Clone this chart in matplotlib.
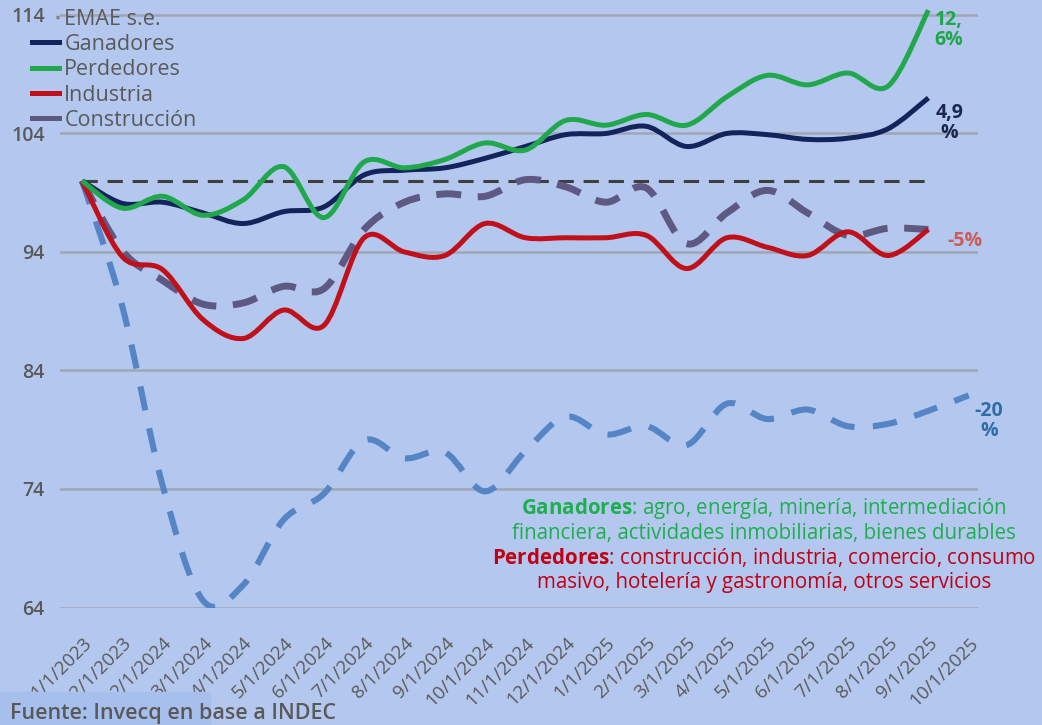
import numpy as np
import matplotlib
matplotlib.use("Agg")
import matplotlib.pyplot as plt
from matplotlib.path import Path
from matplotlib.patches import PathPatch, Rectangle
from matplotlib.lines import Line2D

plt.rcParams['font.family'] = ['Open Sans', 'DejaVu Sans']
plt.rcParams['mathtext.fontset'] = 'custom'
plt.rcParams['mathtext.rm'] = 'Open Sans'
plt.rcParams['mathtext.bf'] = 'Open Sans:bold'

# fechas (eje categórico)
LABELS = ['1/1/2023', '12/1/2023', '2/1/2024', '3/1/2024', '4/1/2024', '5/1/2024',
          '6/1/2024', '7/1/2024', '8/1/2024', '9/1/2024', '10/1/2024', '11/1/2024',
          '12/1/2024', '1/1/2025', '2/1/2025', '3/1/2025', '4/1/2025', '5/1/2025',
          '6/1/2025', '7/1/2025', '8/1/2025', '9/1/2025', '10/1/2025']

GANADORES = [100, 98.1, 98.2, 97.3, 96.4, 97.4, 97.8, 100.5, 100.9, 101.1, 101.9,
             102.9, 103.9, 104.0, 104.6, 102.9, 104.0, 103.9, 103.5, 103.6, 104.4, 107.0]
PERDEDORES = [100, 97.7, 98.7, 97.1, 98.4, 101.2, 96.9, 101.6, 101.1, 101.8, 103.2,
              102.6, 105.1, 104.7, 105.6, 104.7, 107.1, 108.9, 108.1, 109.1, 108.0, 114.4]
INDUSTRIA = [100, 93.6, 92.5, 88.3, 86.7, 89.1, 87.8, 95.2, 94.0, 93.7, 96.4,
             95.2, 95.2, 95.2, 95.4, 92.6, 95.2, 94.4, 93.7, 95.7, 93.7, 95.9]
CONSTRUCCION = [100, 94.1, 91.6, 89.6, 89.7, 91.1, 90.9, 95.9, 98.2, 98.9, 98.7,
                100.1, 99.5, 98.2, 99.4, 94.7, 97.3, 99.2, 97.3, 95.4, 96.0, 95.9]
OTRA = [100, 89.4, 74.3, 64.6, 65.9, 71.4, 73.6, 78.1, 76.6, 77.1, 73.8, 77.2,
        80.1, 78.6, 79.3, 77.7, 81.2, 79.9, 80.7, 79.3, 79.5, 80.6, 81.9]
BASE = 100

END_LABELS = ['12,\n6%', '4,9\n%', '-5%', '-20\n%']
YTICKS = [64, 74, 84, 94, 104, 114]

BG = '#B4C8EF'
GREY = '#595959'


def smooth_path(ys):
    # curva suavizada tipo Excel (Bezier por los puntos)
    pts = np.column_stack([np.arange(len(ys)), ys]).astype(float)
    n = len(pts)
    verts = [pts[0]]
    codes = [Path.MOVETO]
    for k in range(n - 1):
        p0 = pts[max(k - 1, 0)]
        p1 = pts[k]
        p2 = pts[k + 1]
        p3 = pts[min(k + 2, n - 1)]
        verts += [p1 + (p2 - p0) / 6, p2 - (p3 - p1) / 6, p2]
        codes += [Path.CURVE4] * 3
    return Path(verts, codes)


fig = plt.figure(figsize=(10.42, 7.25), dpi=100, facecolor=BG)
ax = fig.add_axes([60 / 1042, 117.5 / 725, 918 / 1042, 604.4 / 725])
ax.set_facecolor(BG)

x = np.arange(len(LABELS))
ax.set_xlim(-0.546, 22.23)
ax.set_ylim(64, 115)

for s in ax.spines.values():
    s.set_visible(False)
ax.set_yticks(YTICKS)
ax.yaxis.grid(True, color='#A0A6B4', linewidth=1.8)
ax.set_axisbelow(True)
ax.set_xticks(x)
ax.set_xticklabels(LABELS, rotation=45, ha='right', va='top', rotation_mode='anchor')
ax.tick_params(axis='x', length=0, pad=19, labelsize=13.5, labelcolor=GREY)
ax.tick_params(axis='y', length=0, pad=11, labelsize=14, labelcolor=GREY)
for t in ax.get_xticklabels():
    t.set_fontweight('medium')
for t in ax.get_yticklabels():
    t.set_fontweight('semibold')

# linea base 100
ax.plot([x[0], x[21]], [BASE, BASE], color='#3F3F3F', lw=2.2,
        linestyle=(0, (5, 3.2)), zorder=2)

series = [
    (OTRA, '#5585C5', 4.4, (0, (4.0, 3.0))),
    (CONSTRUCCION, '#5D5982', 5.0, (0, (3.6, 2.4))),
    (INDUSTRIA, '#C0101A', 3.6, '-'),
    (GANADORES, '#13235B', 3.6, '-'),
    (PERDEDORES, '#21A84D', 3.6, '-'),
]
for vals, col, lw, ls in series:
    ax.add_patch(PathPatch(smooth_path(vals), fill=False, edgecolor=col, lw=lw,
                           linestyle=ls, capstyle='butt', zorder=3))

# etiquetas finales
ends = [(PERDEDORES, '#1FA64A', (14.5, -14.4)),
        (GANADORES, '#1A2550', (15, -18)),
        (CONSTRUCCION, '#D05A55', (26, -8.6)),
        (OTRA, '#2F6DA8', (14.5, -18.7))]
for (vals, col, off), lab in zip(ends, END_LABELS):
    ax.annotate(lab, xy=(len(vals) - 1, vals[-1]), xytext=off,
                textcoords='offset points', ha='center', va='center',
                color=col, fontsize=14, fontweight='bold', linespacing=1.0,
                annotation_clip=False)

# leyenda
handles = [
    Line2D([], [], color='#7F7F7F', lw=2.5, linestyle=(1.1, (0.9, 7.1))),
    Line2D([], [], color='#13235B', lw=3.6),
    Line2D([], [], color='#21A84D', lw=3.6),
    Line2D([], [], color='#C0101A', lw=3.6),
    Line2D([], [], color='#5D5982', lw=3.6),
]
leg = ax.legend(handles, ['EMAE s.e.', 'Ganadores', 'Perdedores', 'Industria', 'Construcción'],
                loc='upper left', bbox_to_anchor=(32 / 1042, 0.988),
                bbox_transform=fig.transFigure, frameon=False, fontsize=15.5,
                handlelength=1.25, handletextpad=0.25, labelspacing=0.2,
                borderpad=0, borderaxespad=0, labelcolor=GREY)

# texto explicativo
fig.text(764 / 1042, 0.2828,
         "$\\bf{Ganadores}$: agro, energía, minería, intermediación\n"
         "financiera, actividades inmobiliarias, bienes durables",
         ha='center', va='center', color='#1FAE4F', fontsize=14.8, linespacing=1.15)
fig.text(764 / 1042, 0.2145,
         "$\\bf{Perdedores}$: construcción, industria, comercio, consumo\n"
         "masivo, hotelería y gastronomía, otros servicios",
         ha='center', va='center', color='#C00014', fontsize=14.8, linespacing=1.15)

# fuente
fig.patches.append(Rectangle((0, 0), 210 / 1042, 33 / 725, transform=fig.transFigure,
                             color='#A7BFEC', zorder=0))
fig.text(10 / 1042, 12 / 725, 'Fuente: Invecq en base a INDEC', ha='left', va='center',
         color=GREY, fontsize=15.5, fontweight='semibold')

fig.savefig('out.png', dpi=100, facecolor=BG)
